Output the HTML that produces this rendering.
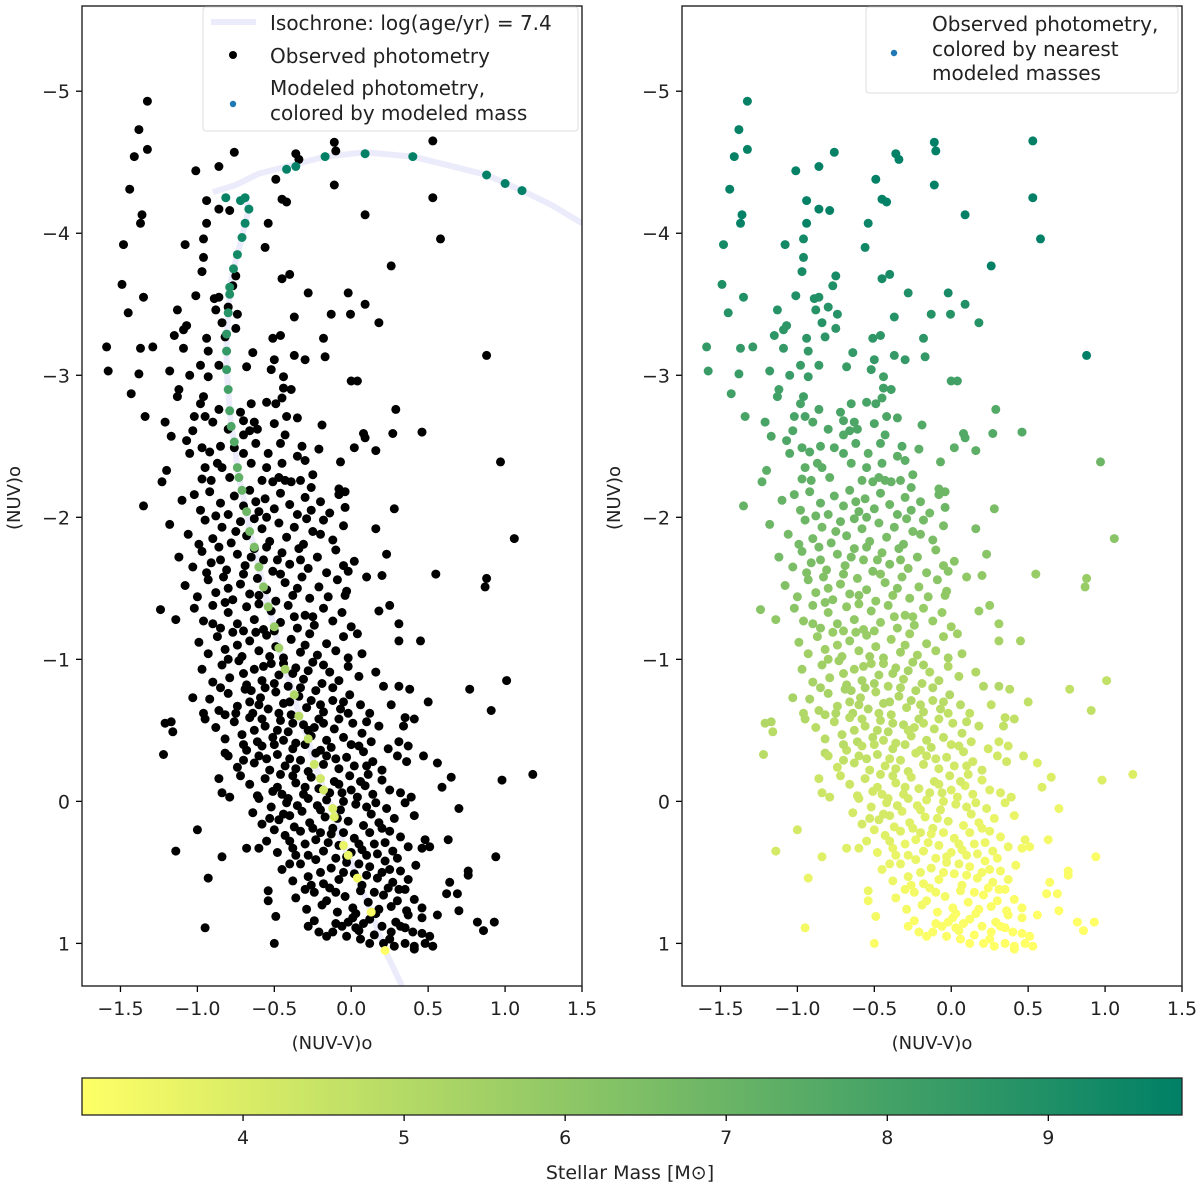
<!DOCTYPE html>
<html><head><meta charset="utf-8"><style>
html,body{margin:0;padding:0;background:#fff;}
svg{display:block;font-family:"DejaVu Sans","Liberation Sans",sans-serif;}
</style></head><body>
<svg id="fig" width="1200" height="1193" viewBox="0 0 1200 1193" xmlns="http://www.w3.org/2000/svg">
<rect x="0" y="0" width="1200" height="1193" fill="#fff"/>
<defs>
<linearGradient id="cbgrad" x1="0" y1="0" x2="1" y2="0">
<stop offset="0" stop-color="rgb(255,255,102)"/>
<stop offset="1" stop-color="rgb(0,128,102)"/>
</linearGradient>
</defs>
<g id="left"></g>
<g id="right"></g>
<g id="cbar"></g>
</svg>
<script>
const obsColor = [
[-1.325,-4.93],[-1.38,-4.73],[-1.325,-4.59],[-1.41,-4.54],[-1.44,-4.31],[-1.36,-4.13],[-1.37,-4.07],[-1.48,-3.92],[-1.49,-3.64],[-1.35,-3.55],[-1.45,-3.44],[-1.59,-3.20],[-1.58,-3.03],[-1.37,-3.19],[-1.29,-3.20],[-1.38,-3.01],[-1.43,-2.87],[-1.34,-2.71],
[-1.01,-4.44],[-0.86,-4.47],[-0.76,-4.57],[-0.94,-4.23],[-0.86,-4.17],[-0.79,-4.16],[-0.94,-4.07],[-0.96,-3.96],[-1.08,-3.92],[-0.96,-3.83],[-0.97,-3.73],[-0.54,-4.07],[-0.56,-3.90],[-0.49,-4.38],[-0.45,-4.24],[-0.42,-4.22],[-0.36,-4.56],[-0.34,-4.52],[-0.11,-4.64],[-0.10,-4.58],[-0.11,-4.34],[0.53,-4.65],[0.53,-4.25],[0.09,-4.13],[0.58,-3.96],[0.26,-3.77],
[-0.45,-3.68],[-0.40,-3.71],[-0.28,-3.58],[-0.02,-3.58],[0.09,-3.50],[-0.13,-3.43],[-0.005,-3.43],[-0.37,-3.41],[0.18,-3.37],[0.88,-3.14],[-0.18,-3.26],[-0.17,-3.13],[-0.30,-3.11],[-0.37,-3.14],[-0.51,-3.26],[-0.46,-3.28],[0.0,-2.96],[0.04,-2.96],[0.29,-2.76],[0.27,-2.59],[0.46,-2.60],[0.97,-2.39],[0.16,-2.47],[0.02,-2.49],[0.08,-2.59],[0.09,-2.56],[-0.19,-2.65],[-0.07,-2.39],[-0.21,-2.48],[-0.32,-2.50],[-0.35,-2.43],[-0.68,-3.06],[-0.64,-3.16],
[-1.13,-3.46],[-1.01,-3.56],[-1.07,-3.35],[-1.09,-3.32],[-1.15,-3.28],[-1.09,-3.19],[-1.05,-3.00],[-0.98,-3.07],[-0.93,-3.17],[-0.94,-3.26],[-0.89,-3.54],[-0.86,-3.55],[-0.88,-3.46],[-0.84,-3.37],[-0.80,-3.48],[-0.74,-3.43],[-0.75,-3.33],[-0.82,-3.27],[-0.86,-3.07],[-0.93,-2.99],[-1.12,-2.90],[-1.13,-2.85],[-1.18,-3.03],[-0.75,-3.70],[-0.77,-3.63],
[-0.44,-2.99],[-0.39,-2.90],[-0.44,-2.91],[-0.52,-3.04],[-0.50,-3.11],[-0.55,-2.81],[-0.49,-2.80],[-0.45,-2.84],[-0.42,-2.71],[-0.43,-2.58],[-0.46,-2.52],[-0.54,-2.45],
[-0.96,-2.85],[-0.98,-2.80],[-0.86,-2.76],[-0.95,-2.71],[-1.02,-2.71],[-0.90,-2.67],[-1.21,-2.67],[-1.17,-2.57],[-1.07,-2.54],[-1.03,-2.61],[-0.97,-2.49],[-0.92,-2.46],[-0.87,-2.38],[-0.84,-2.35],[-0.79,-2.28],[-0.72,-2.74],[-0.70,-2.68],[-0.63,-2.67],[-0.61,-2.62],[-0.66,-2.61],[-0.70,-2.58],[-0.76,-2.49],[-0.65,-2.38],
[-1.20,-2.33],[-1.23,-2.25],[-0.97,-2.27],[-0.91,-2.26],[-0.58,-2.26],[-0.51,-2.25],[-0.47,-2.28],[-0.43,-2.26],[-0.39,-2.25],[-0.33,-2.26],[-0.26,-2.21],[-0.08,-2.20],[-0.04,-2.18],
[-1.35,-2.08],[0.28,-2.06],[1.06,-1.85],[0.16,-1.92],[0.23,-1.74],[0.55,-1.60],[0.88,-1.57],[0.87,-1.51],[0.20,-1.59],[0.10,-1.58],[-0.02,-1.62],[0.02,-1.69],[-0.04,-1.45],[0.25,-1.38],[0.18,-1.34],[0.31,-1.25],[0.31,-1.13],[0.45,-1.13],[0.04,-1.18],[0.07,-1.04],[-0.02,-1.01],[0.16,-0.91],
[1.01,-0.85],[0.77,-0.79],[0.50,-0.70],[0.91,-0.64],[0.21,-0.81],[0.31,-0.81],[0.38,-0.79],[0.26,-0.68],[0.35,-0.59],[0.41,-0.58],[0.34,-0.53],[0.31,-0.42],[0.37,-0.39],[0.30,-0.32],[0.36,-0.28],[0.47,-0.32],[0.56,-0.27],[1.18,-0.19],[0.98,-0.15],[0.65,-0.17],[0.59,-0.10],[0.70,0.05],
[0.32,-0.06],[0.39,-0.03],[0.35,0.01],[0.41,0.10],[0.48,0.27],[0.51,0.32],[0.63,0.27],[0.46,0.33],[0.94,0.39],[0.76,0.49],[0.76,0.52],[0.69,0.65],[0.70,0.77],[0.82,0.85],[0.86,0.91],[0.93,0.85],[0.64,0.57],[0.62,0.65],
[0.53,1.02],[0.48,1.00],[0.41,1.02],[0.41,1.04],[0.35,1.00],[0.28,1.02],[0.21,1.00],[0.12,1.00],[0.06,0.97],[0.03,0.89],[-0.03,0.95],[-0.06,0.88],[-0.12,0.92],[-0.21,0.92],[-0.28,0.88],[-0.50,1.00],[-0.95,0.89],[-0.10,0.86],[0.01,0.82],[0.29,0.85],[0.46,0.93],[0.56,0.80],[0.46,0.82],[0.37,0.80],[0.35,0.89],[0.26,0.92],[0.20,0.88],[0.12,0.83],
[-1.0,0.20],[-1.14,0.35],[-0.84,0.39],[-0.93,0.54],[-0.49,0.81],[-0.54,0.70],[-0.54,0.63],[-0.68,0.33],[-0.60,0.33],[-1.22,-0.33],[-1.21,-0.55],[-1.17,-0.56],[-1.16,-0.49],[-1.03,-0.73],[-1.24,-1.35],[-1.14,-1.28],[-0.86,-0.16],[-0.84,-0.06],[-0.79,-0.03],[-0.82,-0.34],[-0.72,-0.18],[-0.96,-0.62],[-0.95,-0.58],
[-0.85,-2.5],[-0.62,-2.52],[-0.55,-2.35],[-0.30,-2.40],[-0.70,-2.45],[-0.50,-2.66],[-0.35,-2.70],[-0.80,-2.62],[-0.95,-2.35],[-1.05,-2.45],[-0.65,-2.80],[-0.45,-2.38],[-0.25,-2.30],
[-1.10,-2.12],[-0.98,-2.05],[-0.92,-2.18],[-0.85,-2.10],[-0.80,-2.02],[-0.76,-2.15],[-0.70,-2.08],[-0.66,-2.19],[-0.60,-2.04],[-0.56,-2.13],[-0.50,-2.06],[-0.46,-2.17],[-0.40,-2.09],[-0.35,-2.02],[-0.30,-2.14],[-0.26,-2.05],[-0.20,-2.11],[-0.14,-2.03],[-0.08,-2.16],[-0.04,-2.07],[-1.02,-2.16],[-0.88,-2.01],[-0.62,-2.11],
[-1.18,-1.95],[-1.06,-1.88],[-0.95,-1.98],[-0.90,-1.85],[-0.84,-1.93],[-0.78,-1.82],[-0.72,-1.97],[-0.68,-1.87],[-0.58,-1.92],[-0.53,-1.83],[-0.47,-1.96],[-0.42,-1.86],[-0.37,-1.93],[-0.31,-1.81],[-0.25,-1.90],[-0.18,-1.98],[-0.12,-1.84],[-0.05,-1.94],[-0.99,-1.81],[-0.63,-1.99],[-0.29,-1.99],
[-1.12,-1.72],[-1.03,-1.65],[-0.97,-1.76],[-0.91,-1.68],[-0.86,-1.79],[-0.81,-1.63],[-0.74,-1.74],[-0.69,-1.66],[-0.63,-1.78],[-0.57,-1.70],[-0.51,-1.62],[-0.45,-1.75],[-0.40,-1.67],[-0.34,-1.78],[-0.28,-1.64],[-0.22,-1.72],[-0.16,-1.61],[-0.10,-1.77],[-0.94,-1.61],[-0.55,-1.79],[-0.05,-1.66],
[-1.08,-1.52],[-1.00,-1.44],[-0.93,-1.56],[-0.88,-1.47],[-0.83,-1.58],[-0.77,-1.42],[-0.72,-1.53],[-0.66,-1.46],[-0.61,-1.57],[-0.55,-1.49],[-0.49,-1.41],[-0.43,-1.54],[-0.38,-1.45],[-0.32,-1.58],[-0.27,-1.43],[-0.21,-1.51],[-0.15,-1.44],[-0.09,-1.56],[-0.03,-1.48],[-0.70,-1.60],[-0.46,-1.60],
[-1.02,-1.36],[-0.96,-1.27],[-0.90,-1.38],[-0.85,-1.22],[-0.80,-1.33],[-0.74,-1.25],[-0.68,-1.37],[-0.63,-1.28],[-0.57,-1.21],[-0.52,-1.34],[-0.46,-1.26],[-0.41,-1.38],[-0.35,-1.22],[-0.30,-1.31],[-0.24,-1.24],[-0.18,-1.36],[-0.12,-1.27],[-0.06,-1.33],[0.00,-1.23],[-0.60,-1.39],[-0.37,-1.30],[-0.82,-1.40],
[-0.99,-1.12],[-0.93,-1.04],[-0.87,-1.16],[-0.82,-1.07],[-0.77,-1.19],[-0.71,-1.02],[-0.66,-1.13],[-0.60,-1.06],[-0.55,-1.17],[-0.49,-1.09],[-0.44,-1.01],[-0.39,-1.14],[-0.33,-1.05],[-0.27,-1.18],[-0.22,-1.03],[-0.16,-1.11],[-0.10,-1.06],[-0.05,-1.16],[-0.74,-1.10],[-0.53,-1.02],[-0.30,-1.10],[-0.62,-1.19],
[-0.97,-0.93],[-0.90,-0.84],[-0.84,-0.96],[-0.79,-0.87],[-0.73,-0.99],[-0.68,-0.82],[-0.63,-0.93],[-0.58,-0.85],[-0.52,-0.97],[-0.47,-0.89],[-0.41,-0.81],[-0.36,-0.94],[-0.31,-0.86],[-0.25,-0.98],[-0.19,-0.83],[-0.14,-0.91],[-0.08,-0.85],[-0.02,-0.95],[0.05,-0.88],[-0.56,-0.80],[-0.44,-0.97],[-0.70,-0.90],[-0.28,-0.92],
[-0.92,-0.72],[-0.86,-0.64],[-0.80,-0.76],[-0.74,-0.67],[-0.69,-0.79],[-0.64,-0.62],[-0.59,-0.73],[-0.54,-0.65],[-0.49,-0.77],[-0.44,-0.69],[-0.39,-0.61],[-0.34,-0.74],[-0.29,-0.66],[-0.23,-0.78],[-0.18,-0.63],[-0.12,-0.71],[-0.07,-0.65],[-0.01,-0.75],[0.06,-0.68],[0.12,-0.62],[-0.66,-0.70],[-0.47,-0.62],[-0.26,-0.71],[-0.82,-0.61],
[-0.88,-0.52],[-0.82,-0.44],[-0.76,-0.56],[-0.71,-0.47],[-0.66,-0.59],[-0.61,-0.42],[-0.56,-0.53],[-0.51,-0.45],[-0.46,-0.57],[-0.41,-0.49],[-0.36,-0.41],[-0.31,-0.54],[-0.26,-0.46],[-0.21,-0.58],[-0.16,-0.43],[-0.11,-0.51],[-0.05,-0.45],[0.01,-0.55],[0.07,-0.48],[0.13,-0.42],[-0.63,-0.50],[-0.44,-0.43],[-0.24,-0.52],[-0.08,-0.58],[0.18,-0.53],
[-0.80,-0.32],[-0.74,-0.24],[-0.68,-0.36],[-0.63,-0.27],[-0.58,-0.39],[-0.53,-0.22],[-0.48,-0.33],[-0.43,-0.25],[-0.38,-0.37],[-0.33,-0.29],[-0.28,-0.21],[-0.23,-0.34],[-0.18,-0.26],[-0.13,-0.38],[-0.08,-0.23],[-0.03,-0.31],[0.02,-0.25],[0.08,-0.35],[0.14,-0.28],[0.20,-0.22],[-0.55,-0.30],[-0.36,-0.23],[-0.16,-0.32],[0.05,-0.39],[-0.70,-0.29],[0.24,-0.37],
[-0.66,-0.12],[-0.61,-0.04],[-0.56,-0.16],[-0.51,-0.07],[-0.46,-0.19],[-0.41,-0.02],[-0.36,-0.13],[-0.31,-0.05],[-0.26,-0.17],[-0.21,-0.09],[-0.16,-0.01],[-0.11,-0.14],[-0.06,-0.06],[-0.01,-0.18],[0.04,-0.03],[0.09,-0.11],[0.14,-0.05],[0.20,-0.15],[0.25,-0.08],[-0.48,-0.10],[-0.28,-0.02],[-0.08,-0.12],[0.11,-0.19],[-0.38,-0.18],[0.00,-0.08],
[-0.64,0.08],[-0.58,0.16],[-0.52,0.04],[-0.47,0.13],[-0.42,0.01],[-0.37,0.18],[-0.32,0.07],[-0.27,0.15],[-0.22,0.03],[-0.17,0.11],[-0.12,0.19],[-0.07,0.06],[-0.02,0.14],[0.03,0.02],[0.08,0.17],[0.13,0.09],[0.18,0.15],[0.23,0.05],[0.28,0.12],[-0.44,0.09],[-0.25,0.19],[-0.05,0.00],[0.10,0.04],[-0.35,0.03],[0.20,0.19],
[-0.55,0.28],[-0.48,0.36],[-0.43,0.24],[-0.38,0.33],[-0.33,0.21],[-0.28,0.38],[-0.23,0.27],[-0.18,0.35],[-0.13,0.23],[-0.08,0.31],[-0.03,0.39],[0.02,0.26],[0.07,0.34],[0.12,0.22],[0.17,0.37],[0.22,0.29],[0.27,0.35],[0.32,0.25],[0.37,0.32],[-0.20,0.22],[0.00,0.36],[0.15,0.30],[-0.36,0.38],[0.25,0.21],
[-0.45,0.48],[-0.38,0.56],[-0.33,0.44],[-0.28,0.53],[-0.23,0.41],[-0.18,0.58],[-0.13,0.47],[-0.08,0.55],[-0.03,0.43],[0.02,0.51],[0.07,0.59],[0.12,0.46],[0.17,0.54],[0.22,0.42],[0.27,0.57],[0.32,0.49],[0.37,0.55],[0.42,0.45],[-0.10,0.40],[0.05,0.44],[0.20,0.50],[-0.26,0.59],
[-0.36,0.68],[-0.29,0.76],[-0.24,0.64],[-0.19,0.73],[-0.14,0.61],[-0.09,0.78],[-0.04,0.67],[0.01,0.75],[0.06,0.63],[0.11,0.71],[0.16,0.79],[0.21,0.66],[0.26,0.74],[0.31,0.62],[0.36,0.77],[0.41,0.69],[0.46,0.75],[-0.16,0.70],[0.03,0.79],[0.24,0.61],
[-0.24,0.84],[-0.16,0.95],[-0.02,0.85],[0.05,0.91],[0.15,0.94],[0.25,0.97],[0.32,0.88],[0.40,0.92],[0.51,0.95],
[-0.60,-0.02],[-0.53,0.12],[-0.45,-0.05],[-0.40,0.10],[-0.30,-0.10],[-0.20,0.06],[-0.14,-0.06],[-0.09,0.12],[0.06,-0.14],[0.16,0.01],[-0.50,0.20],[-0.40,0.28],[-0.30,0.30],[-0.15,0.29],[-0.05,0.22],[0.05,0.30],[0.10,0.38],[0.30,0.40],[-0.40,0.44],[-0.20,0.50],[-0.05,0.50],[0.10,0.52],[0.25,0.48],[0.35,0.62],[-0.30,0.62],[-0.10,0.64],[0.15,0.64],[0.30,0.70],[0.08,0.86],[0.18,0.76],
[-0.70,-0.40],[-0.60,-0.32],[-0.50,-0.40],[-0.40,-0.30],[-0.30,-0.40],[-0.20,-0.36],[-0.10,-0.30],[0.00,-0.40],[0.10,-0.25],[-0.58,-0.58],[-0.48,-0.50],[-0.38,-0.55],[-0.28,-0.50],[-0.18,-0.55],[-0.02,-0.62],[0.10,-0.56],[-0.75,-0.62],[-0.60,-0.68],[-0.40,-0.70],[-0.20,-0.68],[-0.05,-0.70],
[-0.85,-0.80],[-0.65,-0.78],[-0.50,-0.83],[-0.33,-0.80],[-0.12,-0.80],[-0.80,-1.00],[-0.57,-0.95],[-0.38,-0.90],[-0.18,-0.96],[-0.90,-1.25],[-0.70,-1.20],[-0.50,-1.20],[-0.25,-1.30],[-0.80,-1.50],[-0.60,-1.45],[-0.35,-1.50],[-0.65,-1.72],[-0.48,-1.70],[-0.85,-1.70],[-0.75,-1.90],[-0.55,-2.00],[-0.33,-1.70],[-0.20,-1.88]
];
const modelColor = [-0.815,-0.72,-0.69,-0.665,-0.69,-0.71,-0.74,-0.765,-0.79,-0.79,-0.80,-0.81,-0.81,-0.81,-0.80,-0.79,-0.78,-0.76,-0.74,-0.73,-0.71,-0.68,-0.66,-0.63,-0.60,-0.57,-0.54,-0.50,-0.47,-0.43,-0.37,-0.34,-0.28,-0.24,-0.20,-0.18,-0.12,-0.11,-0.05,-0.02,0.04,0.13,0.22,-0.42,-0.36,-0.17,0.09,0.40,0.88,1.00,1.11];
const modelMag = [-4.25,-4.23,-4.25,-4.17,-4.07,-3.97,-3.85,-3.75,-3.62,-3.57,-3.44,-3.29,-3.17,-3.04,-2.90,-2.75,-2.64,-2.53,-2.35,-2.28,-2.19,-2.04,-1.90,-1.79,-1.65,-1.51,-1.37,-1.23,-1.08,-0.93,-0.75,-0.60,-0.44,-0.26,-0.16,-0.08,0.05,0.11,0.31,0.38,0.54,0.78,1.05,-4.45,-4.47,-4.54,-4.56,-4.54,-4.41,-4.35,-4.30];
const modelMass = [9.7,9.7,9.65,9.6,9.5,9.4,9.3,9.2,9.0,8.95,8.8,8.6,8.45,8.3,8.1,7.9,7.75,7.6,7.35,7.25,7.1,6.9,6.7,6.55,6.35,6.15,5.95,5.75,5.55,5.35,5.1,4.9,4.65,4.4,4.25,4.15,3.95,3.85,3.6,3.5,3.3,3.1,3.0,9.75,9.75,9.8,9.8,9.8,9.82,9.82,9.83];
const isoMSColor = [0.33,0.22,0.13,0.04,-0.02,-0.05,-0.11,-0.12,-0.18,-0.20,-0.24,-0.28,-0.34,-0.37,-0.43,-0.47,-0.50,-0.54,-0.57,-0.60,-0.63,-0.66,-0.68,-0.71,-0.73,-0.74,-0.76,-0.78,-0.79,-0.80,-0.81,-0.81,-0.81,-0.80,-0.79,-0.79,-0.765,-0.74,-0.71,-0.69,-0.665,-0.69,-0.72];
const isoMSMag = [1.30,1.05,0.78,0.54,0.38,0.31,0.11,0.05,-0.08,-0.16,-0.26,-0.44,-0.60,-0.75,-0.93,-1.08,-1.23,-1.37,-1.51,-1.65,-1.79,-1.90,-2.04,-2.19,-2.28,-2.35,-2.53,-2.64,-2.75,-2.90,-3.04,-3.17,-3.29,-3.44,-3.57,-3.62,-3.75,-3.85,-3.97,-4.07,-4.17,-4.25,-4.23];
const isoArcColor = [-0.90,-0.75,-0.60,-0.42,-0.17,0.09,0.40,0.70,0.88,1.11,1.30,1.50];
const isoArcMag = [-4.29,-4.34,-4.42,-4.47,-4.54,-4.57,-4.54,-4.46,-4.41,-4.30,-4.20,-4.07];
const xTicks = [-1.5,-1.0,-0.5,0.0,0.5,1.0,1.5];
const xTickLabels = ["\u22121.5","\u22121.0","\u22120.5","0.0","0.5","1.0","1.5"];
const yTicks = [-5,-4,-3,-2,-1,0,1];
const yTickLabels = ["\u22125","\u22124","\u22123","\u22122","\u22121","0","1"];
const cbTicks = [4,5,6,7,8,9];
const cbTickLabels = ["4","5","6","7","8","9"];

const NS = "http://www.w3.org/2000/svg";
const XMIN=-1.75, XMAX=1.5, YMIN=-5.6, YMAX=1.3;
const PW=500, PH=980, PT=6;
const MMIN=3.0, MMAX=9.83;
const R=4.5;
function mk(tag, attrs, parent){const e=document.createElementNS(NS,tag);for(const k in attrs)e.setAttribute(k,attrs[k]);parent.appendChild(e);return e;}
function sx(L,x){return L+(x-XMIN)/(XMAX-XMIN)*PW;}
function sy(y){return PT+(y-YMIN)/(YMAX-YMIN)*PH;}
function massColor(m){let t=(m-MMIN)/(MMAX-MMIN);t=Math.max(0,Math.min(1,t));const s=1-t;return `rgb(${Math.round(s*255)},${Math.round((0.5+0.5*s)*255)},102)`;}
function nearestMass(x,y){let best=0,bd=1e9;for(let i=0;i<modelColor.length;i++){const dx=modelColor[i]-x,dy=modelMag[i]-y;const d=dx*dx+dy*dy;if(d<bd){bd=d;best=i;}}return modelMass[best];}

function axes(g,L,which){
  const clip=mk('clipPath',{id:'clip'+which},g);
  mk('rect',{x:L,y:PT,width:PW,height:PH},clip);
  for(let i=0;i<xTicks.length;i++){
    const X=sx(L,xTicks[i]);
    const t=mk('line',{x1:X,y1:PT+PH,x2:X,y2:PT+PH+6,stroke:'#000','stroke-width':1.3},g);
    
    
    const tx=mk('text',{x:X,y:PT+PH+29,'text-anchor':'middle','font-size':19,fill:'#222'},g);
    tx.textContent=xTickLabels[i];
    
    
  }
  for(let i=0;i<yTicks.length;i++){
    const Y=sy(yTicks[i]);
    const t=mk('line',{x1:L-6,y1:Y,x2:L,y2:Y,stroke:'#000','stroke-width':1.3},g);
    
    
    const tx=mk('text',{x:L-12,y:Y+7,'text-anchor':'end','font-size':19,fill:'#222'},g);
    tx.textContent=yTickLabels[i];
    
    
  }
  const xl=mk('text',{x:L+PW/2,y:1049,'text-anchor':'middle','font-size':18,fill:'#222'},g);
  xl.textContent='(NUV-V)o';
  
  
  const yl=mk('text',{x:0,y:0,'text-anchor':'middle','font-size':18,fill:'#222',transform:`translate(${L-62},${PT+PH/2+2}) rotate(-90)`},g);
  yl.textContent='(NUV)o';
  
  
}
function frame(g,L){
  const r=mk('rect',{x:L,y:PT,width:PW,height:PH,fill:'none',stroke:'#222','stroke-width':1.4},g);
  
  
}
function polyline(g,L,xs,ys,clipId){
  let d='';for(let i=0;i<xs.length;i++){d+=(i?'L':'M')+sx(L,xs[i]).toFixed(1)+','+sy(ys[i]).toFixed(1);}
  const p=mk('path',{d:d,fill:'none',stroke:'#ebebfb','stroke-width':6,'stroke-linejoin':'round','clip-path':`url(#${clipId})`},g);
  
  
}

// LEFT PANEL
const gl=document.getElementById('left');
const LL=82;
axes(gl,LL,'L');
polyline(gl,LL,isoMSColor,isoMSMag,'clipL');
polyline(gl,LL,isoArcColor,isoArcMag,'clipL');
for(let i=0;i<obsColor.length;i++){
  const c=mk('circle',{cx:sx(LL,obsColor[i][0]).toFixed(1),cy:sy(obsColor[i][1]).toFixed(1),r:R,fill:'#000'},gl);
  
  
}
for(let i=0;i<modelColor.length;i++){
  const c=mk('circle',{cx:sx(LL,modelColor[i]).toFixed(1),cy:sy(modelMag[i]).toFixed(1),r:R,fill:massColor(modelMass[i])},gl);
  
  
}
frame(gl,LL);
const lg=mk('g',{},gl);


mk('rect',{x:203,y:7,width:375,height:124,rx:3,fill:'#fff','fill-opacity':0.85,stroke:'#ddd','stroke-width':1},lg);
mk('line',{x1:211,y1:22,x2:256,y2:22,stroke:'#ebebfb','stroke-width':6},lg);
mk('circle',{cx:233,cy:55,r:4,fill:'#000'},lg);
mk('circle',{cx:233,cy:104,r:3.2,fill:'#1f77b4'},lg);
const legTexts=[['Isochrone: log(age/yr) = 7.4',30],['Observed photometry',63],['Modeled photometry,',95],['colored by modeled mass',120]];
legTexts.forEach(t=>{const e=mk('text',{x:270,y:t[1],'font-size':20,fill:'#222','textLength':null},lg);e.removeAttribute('textLength');e.textContent=t[0];

});

// RIGHT PANEL
const gr=document.getElementById('right');
const RL=682;
axes(gr,RL,'R');
for(let i=0;i<obsColor.length;i++){
  const m=nearestMass(obsColor[i][0],obsColor[i][1]);
  const c=mk('circle',{cx:sx(RL,obsColor[i][0]).toFixed(1),cy:sy(obsColor[i][1]).toFixed(1),r:R,fill:massColor(m)},gr);
  
  
}
frame(gr,RL);
const rg=mk('g',{},gr);


mk('rect',{x:866,y:7,width:312,height:86,rx:3,fill:'#fff','fill-opacity':0.85,stroke:'#ddd','stroke-width':1},rg);
mk('circle',{cx:894,cy:53,r:3.2,fill:'#1f77b4'},rg);
[['Observed photometry,',31],['colored by nearest',56],['modeled masses',80]].forEach(t=>{const e=mk('text',{x:932,y:t[1],'font-size':20,fill:'#222'},rg);e.textContent=t[0];

});

// COLORBAR
const cb=document.getElementById('cbar');
const CL=82,CR=1182,CT=1078,CH=37;
const cr=mk('rect',{x:CL,y:CT,width:CR-CL,height:CH,fill:'url(#cbgrad)',stroke:'#222','stroke-width':1.3},cb);


for(let i=0;i<cbTicks.length;i++){
  const X=CL+(cbTicks[i]-MMIN)/(MMAX-MMIN)*(CR-CL);
  const t=mk('line',{x1:X,y1:CT+CH,x2:X,y2:CT+CH+6,stroke:'#000','stroke-width':1.3},cb);
  
  
  const tx=mk('text',{x:X,y:CT+CH+29,'text-anchor':'middle','font-size':19,fill:'#222'},cb);
  tx.textContent=cbTickLabels[i];
  
  
}
const cl=mk('text',{x:630,y:1179,'text-anchor':'middle','font-size':19,fill:'#222'},cb);
cl.textContent='Stellar Mass [M\u2299]';


</script>
</body></html>
